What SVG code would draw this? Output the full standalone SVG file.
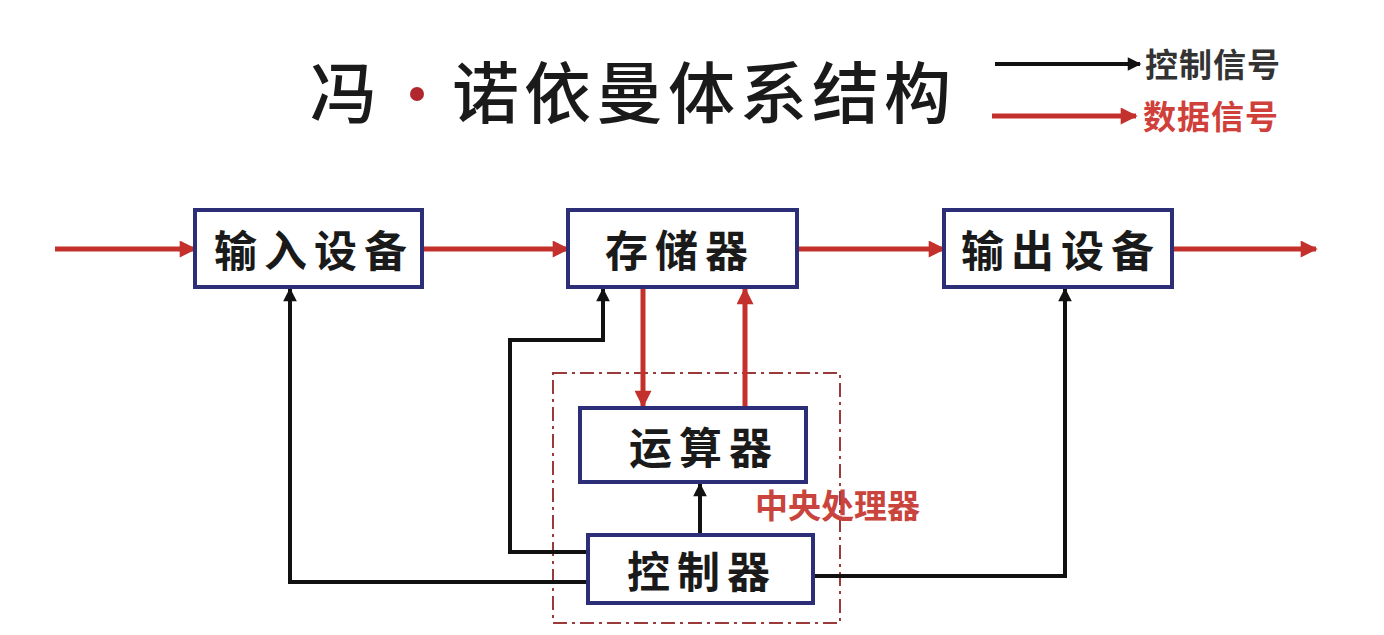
<svg xmlns="http://www.w3.org/2000/svg" width="1384" height="635" viewBox="0 0 1384 635">
<defs>
<marker id="ar" viewBox="0 0 10 10" refX="9" refY="5" markerWidth="5.5" markerHeight="3.4" orient="auto" markerUnits="strokeWidth"><path d="M0,0 L10,5 L0,10 Z" fill="#c4302b"/></marker>
<marker id="ab" viewBox="0 0 10 10" refX="9" refY="5" markerWidth="5" markerHeight="3.4" orient="auto" markerUnits="strokeWidth"><path d="M0,0 L10,5 L0,10 Z" fill="#111"/></marker>
</defs>
<style>
.box{fill:#fff;stroke:#2c2f78;stroke-width:4}
.lbl{font-family:"Noto Sans CJK SC","Noto Sans",sans-serif;font-weight:bold;font-size:43px;fill:#1a1a1a;letter-spacing:7px;text-anchor:middle;dominant-baseline:central}
.red{fill:none;stroke:#c4302b;stroke-width:5;marker-end:url(#ar)}
.blk{fill:none;stroke:#111;stroke-width:4;marker-end:url(#ab)}
</style>
<rect width="1384" height="635" fill="#fff"/>
<g id="title">
<text x="310" y="118" font-family="'Noto Sans CJK SC',sans-serif" font-size="67" font-weight="500" fill="#1a1a1a">冯</text>
<circle cx="417" cy="94" r="7" fill="#b0282e"/>
<text x="452" y="118" font-family="'Noto Sans CJK SC',sans-serif" font-size="67" font-weight="500" fill="#1a1a1a" letter-spacing="5">诺依曼体系结构</text>
</g>
<g id="legend">
<line x1="995" y1="64" x2="1140" y2="64" class="blk"/>
<text x="1145" y="77" font-family="'Noto Sans CJK SC',sans-serif" font-size="33" font-weight="bold" fill="#333" letter-spacing="1">控制信号</text>
<line x1="992" y1="116" x2="1136" y2="116" class="red"/>
<text x="1143" y="129" font-family="'Noto Sans CJK SC',sans-serif" font-size="33" font-weight="bold" fill="#d0403a" letter-spacing="1">数据信号</text>
</g>
<g id="cpu">
<rect x="553" y="373" width="287" height="250" fill="none" stroke="#9a3a3a" stroke-width="2" stroke-dasharray="14,5,3,5"/>
<text x="755" y="518" font-family="'Noto Sans CJK SC',sans-serif" font-size="33" font-weight="bold" fill="#c9443c">中央处理器</text>
</g>
<g id="connectors">
<line x1="55" y1="249" x2="195" y2="249" class="red"/>
<line x1="424" y1="249" x2="568" y2="249" class="red"/>
<line x1="799" y1="249" x2="944" y2="249" class="red"/>
<line x1="1174" y1="249" x2="1316" y2="249" class="red"/>
<line x1="643" y1="289" x2="643" y2="406" class="red"/>
<line x1="745" y1="406" x2="745" y2="289" class="red"/>
<polyline points="588,582 290,582 290,289" class="blk"/>
<polyline points="588,552 510,552 510,340 603,340 603,289" class="blk"/>
<line x1="700" y1="535" x2="700" y2="484" class="blk"/>
<polyline points="813,576 1065,576 1065,289" class="blk"/>
</g>
<g id="n-input"><rect class="box" x="195" y="210" width="227" height="77"/><text class="lbl" x="314" y="248">输入设备</text></g>
<g id="n-memory"><rect class="box" x="568" y="210" width="229" height="77"/><text class="lbl" x="680" y="248">存储器</text></g>
<g id="n-output"><rect class="box" x="944" y="210" width="228" height="77"/><text class="lbl" x="1061" y="248">输出设备</text></g>
<g id="n-alu"><rect class="box" x="580" y="408" width="226" height="74"/><text class="lbl" x="704" y="445">运算器</text></g>
<g id="n-ctrl"><rect class="box" x="588" y="535" width="225" height="68"/><text class="lbl" x="702" y="569">控制器</text></g>
</svg>
